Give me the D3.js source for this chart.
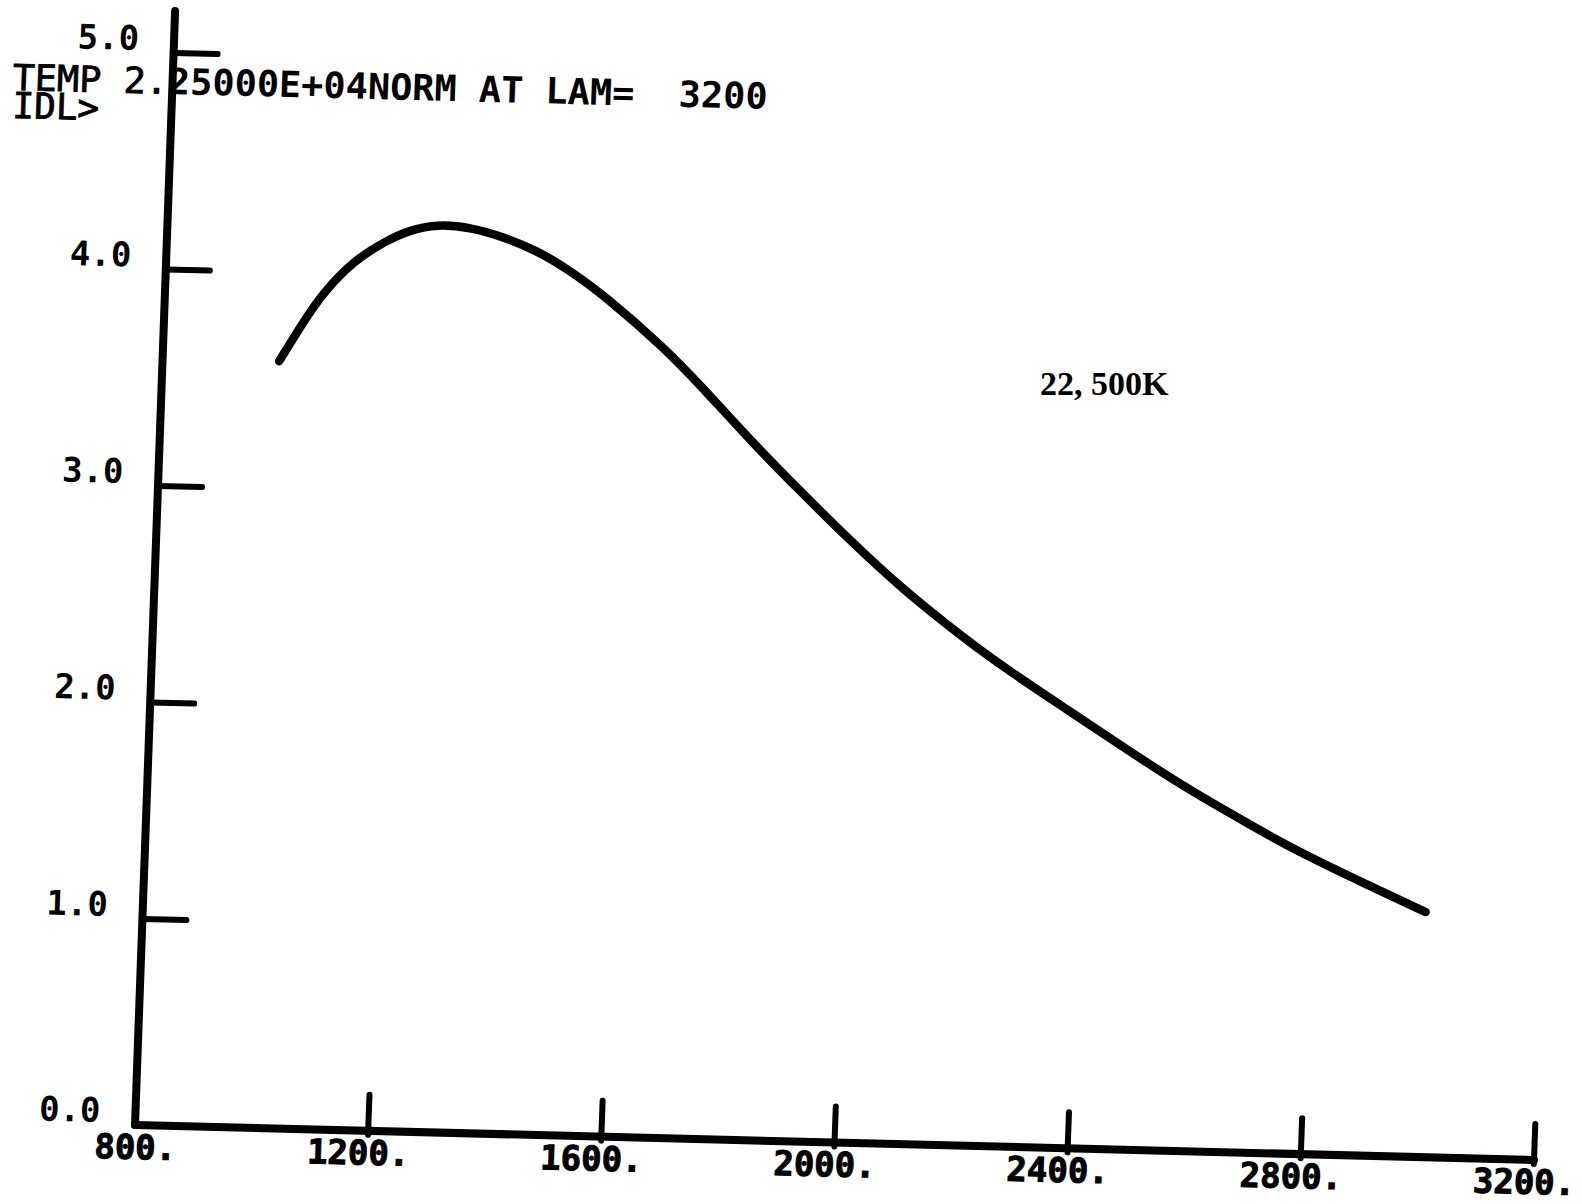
<!DOCTYPE html>
<meta charset="utf-8">
<style>
body { margin: 0; background: #fff; }
svg { display: block; background: #fff; }
.plotter { font-family: "DejaVu Sans Mono", monospace; fill: #000; white-space: pre; }
.thin { stroke: #000; stroke-width: 0.8px; }
.axis line, .axis path { stroke: #000; stroke-linecap: round; fill: none; }
.curve { fill: none; stroke: #000; stroke-width: 8.5; stroke-linecap: round; stroke-linejoin: round; }
</style>
<body>
<script src="https://d3js.org/d3.v7.min.js"></script>
<script>

// wavelength (A) and normalized intensity
var lambda = [1000, 1038, 1071, 1120, 1177, 1216, 1262, 1319, 1376, 1435, 1488, 1554,
              1662, 1726, 1812, 1901, 1989, 2078, 2166, 2249, 2377, 2483, 2590, 2695,
              2765, 2871, 2999];
var intensity = [3.59, 3.77, 3.91, 4.06, 4.16, 4.21, 4.24, 4.23, 4.19, 4.13, 4.05, 3.93,
                 3.69, 3.52, 3.28, 3.05, 2.83, 2.62, 2.44, 2.28, 2.065, 1.885, 1.71, 1.56,
                 1.46, 1.33, 1.18];

var xTicks = [1200, 1600, 2000, 2400, 2800, 3200];
var xLabels = ["800.", "1200.", "1600.", "2000.", "2400.", "2800.", "3200."];
var xLabelAt = [800, 1200, 1600, 2000, 2400, 2800, 3200];
var yTicks = [1, 2, 3, 4, 5];
var yLabels = ["0.0", "1.0", "2.0", "3.0", "4.0", "5.0"];
var yLabelAt = [0, 1, 2, 3, 4, 5];

var title = ["TEMP 2.", "25000E+04NORM AT LAM=  3200"];
var prompt = "IDL>";
var curveLabel = "22, 500K";

var svg = d3.select("body").append("svg").attr("width", 1582).attr("height", 1204);

// the scanned sheet is slightly skewed, so the whole plot sits in a sheared frame
var g = svg.append("g").attr("transform", "matrix(1,0.025,-0.036,1,135,1125)");

var x = d3.scaleLinear().domain([800, 3200]).range([0, 1399]);
var y = d3.scaleLinear().domain([0, 1, 5]).range([0, -206, -1072]);

// axes
var ax = g.append("g").attr("class", "axis");
ax.append("line").attr("x1", 0).attr("y1", 0).attr("x2", 0).attr("y2", y(5) - 42)
  .attr("stroke-width", 8);
ax.append("line").attr("x1", 0).attr("y1", 0).attr("x2", x(3200)).attr("y2", 0)
  .attr("stroke-width", 8);

ax.selectAll(".xt").data(xTicks).enter().append("line").attr("class", "xt")
  .attr("x1", d => x(d)).attr("x2", d => x(d))
  .attr("y1", 4).attr("y2", -36)
  .attr("stroke-width", 6);

ax.selectAll(".yt").data(yTicks).enter().append("line").attr("class", "yt")
  .attr("x1", 0).attr("x2", 44)
  .attr("y1", d => y(d)).attr("y2", d => y(d))
  .attr("stroke-width", 6);

g.selectAll(".xl").data(xLabelAt).enter().append("text").attr("class", "plotter xl")
  .attr("x", d => x(d) + 42).attr("y", 34)
  .attr("text-anchor", "end")
  .attr("font-size", 34).attr("font-weight", "bold")
  .style("stroke", "#000").style("stroke-width", "1px")
  .text((d, i) => xLabels[i]);

g.selectAll(".yl").data(yLabelAt).enter().append("text").attr("class", "plotter yl")
  .attr("x", -35).attr("y", d => y(d) - 2)
  .attr("text-anchor", "end")
  .attr("font-size", 34).attr("font-weight", "bold")
  .text((d, i) => yLabels[i]);

// header printed by the plotting program
var t = g.append("text").attr("class", "plotter")
  .attr("x", -160).attr("y", -1031)
  .attr("font-size", 36)
  .attr("textLength", 755).attr("lengthAdjust", "spacingAndGlyphs");
t.append("tspan").attr("class", "thin").text(title[0]);
t.append("tspan").attr("font-weight", "bold").text(title[1]);

g.append("text").attr("class", "plotter thin")
  .attr("x", -159).attr("y", -1003)
  .attr("font-size", 36)
  .text(prompt);

// spectrum
var pts = lambda.map((d, i) => [d, intensity[i]]);
var line = d3.line().x(d => x(d[0])).y(d => y(d[1])).curve(d3.curveBasis);
g.append("path").attr("class", "curve").attr("d", line(pts));

// typed label on the sheet
svg.append("text")
  .attr("x", 1040).attr("y", 395)
  .attr("font-family", "'Liberation Serif', serif")
  .attr("font-weight", "bold")
  .attr("font-size", 34)
  .text(curveLabel);

</script>
</body>
